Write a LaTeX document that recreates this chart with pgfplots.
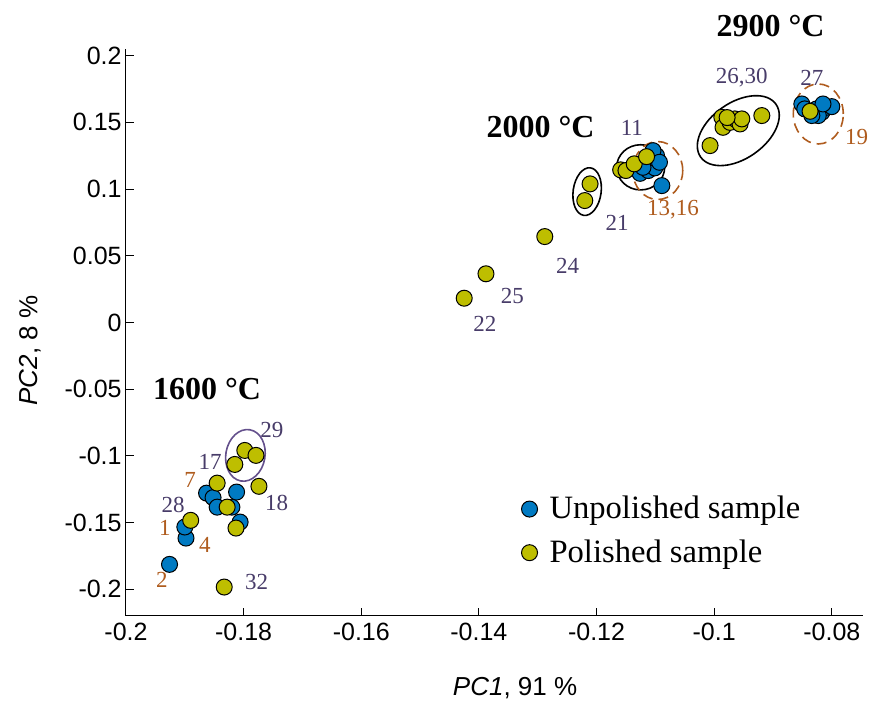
\documentclass[border=0pt]{standalone}
\usepackage{fontspec}
\setmainfont{Liberation Serif}
\newfontfamily\arial{Liberation Sans}
\usepackage{pgfplots}
\pgfplotsset{compat=1.18}
\definecolor{ublue}{RGB}{0,122,194}
\definecolor{pyell}{RGB}{190,190,0}
\definecolor{lpurp}{RGB}{72,60,105}
\definecolor{lbrown}{RGB}{175,92,30}
\definecolor{epurp}{RGB}{100,80,140}
\begin{document}
\begin{tikzpicture}
\begin{axis}[
  scale only axis, width=368.5pt, height=283.5pt,
  xmin=-0.2, xmax=-0.0747, ymin=-0.22, ymax=0.205,
  axis lines=left, axis line style={-, line width=0.5pt, black},
  tick align=inside, major tick length=4pt, tick style={black, line width=0.5pt},
  xtick={-0.2,-0.18,-0.16,-0.14,-0.12,-0.1,-0.08},
  xticklabels={-0.2,-0.18,-0.16,-0.14,-0.12,-0.1,-0.08},
  ytick={-0.2,-0.15,-0.1,-0.05,0,0.05,0.1,0.15,0.2},
  yticklabels={-0.2,-0.15,-0.1,-0.05,0,0.05,0.1,0.15,0.2},
  ticklabel style={font=\arial\fontsize{12.5}{15}\selectfont},
  yticklabel style={inner xsep=2pt},
  clip=false,
  xlabel={\arial\fontsize{13}{15}\selectfont\textit{PC1}, 91 \%},
  ylabel={\arial\fontsize{13}{15}\selectfont\textit{PC2}, 8 \%},
  every axis x label/.style={at={(axis description cs:0.528,0)}, yshift=-36pt, anchor=center},
  every axis y label/.style={at={(axis description cs:0,0.468)}, xshift=-48pt, rotate=90, anchor=center},
  legend style={at={(rel axis cs:0.528,0.226)}, anchor=north west, draw=none, fill=none,
    font=\fontsize{16.3}{19}\selectfont, row sep=5pt, column sep=4pt},
  legend cell align=left,
]
\addplot[only marks, mark=*, mark size=4pt, mark options={fill=ublue, draw=black, line width=0.5pt}]
coordinates {
(-0.1926,-0.1813) (-0.1898,-0.1616) (-0.1900,-0.1533) (-0.1863,-0.1279) (-0.1852,-0.1313)
(-0.1845,-0.1384) (-0.1820,-0.1384) (-0.1812,-0.1271) (-0.1806,-0.1496)
(-0.1089,0.1026) (-0.1126,0.1118) (-0.1112,0.1139) (-0.1101,0.1159) (-0.1106,0.1238)
(-0.1098,0.1251) (-0.1104,0.1288) (-0.1093,0.1201) (-0.1121,0.1163)
(-0.0851,0.1638) (-0.0846,0.1601) (-0.0826,0.1601) (-0.0817,0.1575) (-0.0809,0.1613)
(-0.0800,0.1618) (-0.0823,0.1551) (-0.0834,0.1551) (-0.0815,0.1638)
};
\addlegendentry{Unpolished sample}
\addplot[only marks, mark=*, mark size=4pt, mark options={fill=pyell, draw=black, line width=0.5pt}]
coordinates {
(-0.1890,-0.1483) (-0.1845,-0.1204) (-0.1828,-0.1384) (-0.1813,-0.1541) (-0.1815,-0.1064)
(-0.1798,-0.0959) (-0.1779,-0.0996) (-0.1774,-0.1228) (-0.1833,-0.1983)
(-0.1425,0.0182) (-0.1388,0.0365) (-0.1288,0.0644) (-0.1211,0.1039) (-0.1220,0.0914)
(-0.1159,0.1144) (-0.1150,0.1139) (-0.1136,0.1189) (-0.1115,0.1243)
(-0.1007,0.1326) (-0.0987,0.1538) (-0.0985,0.1463) (-0.0973,0.1500) (-0.0965,0.1526)
(-0.0956,0.1488) (-0.0953,0.1526) (-0.0919,0.1551) (-0.0978,0.1536)
(-0.0837,0.1583)
};
\addlegendentry{Polished sample}
% ellipses
\draw[epurp, line width=0.8pt] (axis cs:-0.1797,-0.0996) ellipse [x radius=9.8pt, y radius=13pt, rotate=-10];
\draw[black, line width=0.8pt] (axis cs:-0.1216,0.0981) ellipse [x radius=7pt, y radius=12pt, rotate=-8];
\draw[black, line width=0.8pt] (axis cs:-0.1125,0.1163) ellipse [x radius=12pt, y radius=11.3pt];
\draw[lbrown, line width=0.8pt, dash pattern=on 5pt off 3pt] (axis cs:-0.1096,0.1139) ellipse [x radius=12.5pt, y radius=14.5pt];
\draw[black, line width=0.8pt] (axis cs:-0.0959,0.1438) ellipse [x radius=23pt, y radius=14pt, rotate=35];
\draw[lbrown, line width=0.8pt, dash pattern=on 5pt off 3pt] (axis cs:-0.0823,0.1563) ellipse [x radius=12.5pt, y radius=15pt];
% temperature labels
\node[font=\bfseries\fontsize{16}{19}\selectfont] at (axis cs:-0.0904,0.2225) {2900 °C};
\node[font=\bfseries\fontsize{16}{19}\selectfont] at (axis cs:-0.1295,0.1468) {2000 °C};
\node[font=\bfseries\fontsize{16}{19}\selectfont] at (axis cs:-0.1862,-0.0502) {1600 °C};
% sample labels
\begin{scope}[every node/.style={font=\fontsize{11.5}{13}\selectfont}]
\node[text=lpurp] at (axis cs:-0.1140,0.1461) {11};
\node[text=lbrown] at (axis cs:-0.1070,0.0846) {13,16};
\node[text=lpurp] at (axis cs:-0.1165,0.0749) {21};
\node[text=lpurp] at (axis cs:-0.1249,0.0427) {24};
\node[text=lpurp] at (axis cs:-0.1343,0.0202) {25};
\node[text=lpurp] at (axis cs:-0.1390,-0.0010) {22};
\node[text=lpurp] at (axis cs:-0.0953,0.1837) {26,30};
\node[text=lpurp] at (axis cs:-0.0834,0.1837) {27};
\node[text=lbrown] at (axis cs:-0.0758,0.1388) {19};
\node[text=lpurp] at (axis cs:-0.1752,-0.0809) {29};
\node[text=lpurp] at (axis cs:-0.1857,-0.1047) {17};
\node[text=lbrown] at (axis cs:-0.1891,-0.1184) {7};
\node[text=lpurp] at (axis cs:-0.1920,-0.1371) {28};
\node[text=lbrown] at (axis cs:-0.1934,-0.1543) {1};
\node[text=lbrown] at (axis cs:-0.1866,-0.1670) {4};
\node[text=lbrown] at (axis cs:-0.1939,-0.1933) {2};
\node[text=lpurp] at (axis cs:-0.1744,-0.1356) {18};
\node[text=lpurp] at (axis cs:-0.1778,-0.1945) {32};
\end{scope}
\end{axis}
\pgfresetboundingbox
\useasboundingbox (-63pt,-43pt) rectangle (371.5pt,308pt);
\end{tikzpicture}
\end{document}
